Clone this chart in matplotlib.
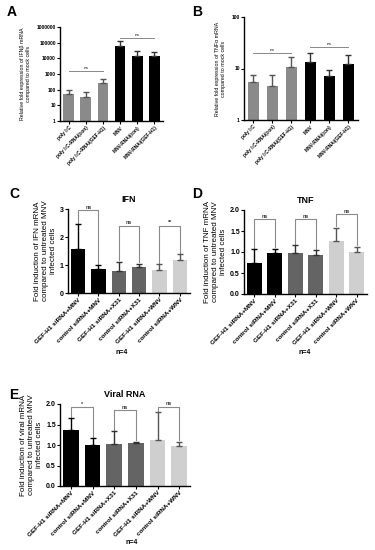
import numpy as np
import matplotlib
matplotlib.use("Agg")
import matplotlib.pyplot as plt

plt.rcParams['font.family'] = ['Liberation Sans', 'DejaVu Sans']
plt.rcParams['font.weight'] = 'bold'

# --- DATA ---
ab_labels = ['poly I:C', 'poly I:C-RNAi(con)', 'poly I:C-RNAi(GEF-H1)',
             'MNV', 'MNV-RNAi(con)', 'MNV-RNAi(GEF-H1)']
a_vals = [55, 35, 250, 65000, 15000, 14000]
a_err = [100, 70, 500, 130000, 30000, 25000]
b_vals = [5.5, 4.5, 10.5, 13.5, 7.0, 12.0]
b_err = [7.5, 7.5, 17, 20, 9.5, 18]

cde_labels = ['GEF-H1 siRNA+MNV', 'control siRNA+MNV', 'GEF-H1 siRNA+X31',
              'control siRNA+X31', 'GEF-H1 siRNA+WNV', 'control siRNA+WNV']
c_vals = [1.58, 0.85, 0.77, 0.92, 0.82, 1.18]
c_err = [2.45, 1.00, 1.12, 1.05, 1.02, 1.38]
c_sig = ['ns', 'ns', '**']
c_sig_y = [2.95, 2.4, 2.4]

d_vals = [0.73, 0.98, 0.97, 0.92, 1.27, 1.00]
d_err = [1.06, 1.07, 1.16, 1.04, 1.57, 1.12]
d_sig = ['ns', 'ns', 'ns']
d_sig_y = [1.78, 1.78, 1.9]

e_vals = [1.37, 1.00, 1.02, 1.06, 1.12, 0.97]
e_err = [1.65, 1.16, 1.33, 1.07, 1.80, 1.07]
e_sig = ['*', 'ns', 'ns']
e_sig_y = [1.93, 1.85, 1.93]

ab_colors = ['#8a8a8a'] * 3 + ['#000000'] * 3
cde_colors = ['#000000', '#000000', '#646464', '#646464', '#cfcfcf', '#cfcfcf']
err_colors = ['#000000', '#000000', '#303030', '#303030', '#555555', '#555555']

W, H = 375, 550
fig = plt.figure(figsize=(W / 100, H / 100), dpi=100)


def px_axes(x0, y0, x1, y1):
    return fig.add_axes([x0 / W, (H - y1) / H, (x1 - x0) / W, (y1 - y0) / H])


def style(ax, fs):
    for s in ['top', 'right']:
        ax.spines[s].set_visible(False)
    for s in ['left', 'bottom']:
        ax.spines[s].set_linewidth(1.0)
    ax.tick_params(axis='both', labelsize=fs, width=0.8, length=2, pad=1)


def bars(ax, vals, err, colors, ecolors, width):
    x = np.arange(len(vals))
    ax.bar(x, vals, width=width, color=colors, zorder=2)
    for xi, v, e, ec in zip(x, vals, err, ecolors):
        ax.errorbar(xi, v, yerr=[[0], [e - v]], fmt='none', ecolor=ec,
                    elinewidth=1.0, capsize=2.5, capthick=1.0, zorder=3)
    ax.set_xlim(-0.5, len(vals) - 0.5)
    ax.set_xticks(x)
    return x


# ---------- Panel A ----------
axA = px_axes(60, 27, 163, 121)
bars(axA, a_vals, a_err, ab_colors, ['#555555'] * 3 + ['#333333'] * 3, 0.62)
axA.set_yscale('log')
axA.set_ylim(1, 1e6)
axA.set_yticks([1, 10, 100, 1000, 10000, 100000, 1000000])
axA.set_yticklabels(['1', '10', '100', '1000', '10000', '100000', '1000000'])
axA.minorticks_off()
style(axA, 3.5)
axA.set_xticklabels(ab_labels, rotation=45, ha='right', rotation_mode='anchor', fontsize=3.4)
axA.set_ylabel('Relative fold expression of IFN\u03b2 mRNA\ncompared to mock cells', fontsize=3.8)
axA.plot([0, 2], [1500, 1500], color='#888888', lw=0.7)
axA.text(1, 1700, 'ns', ha='center', va='bottom', fontsize=3.2, color='#555555')
axA.plot([3, 5], [2e5, 2e5], color='#888888', lw=0.7)
axA.text(4, 2.3e5, 'ns', ha='center', va='bottom', fontsize=3.2, color='#555555')

# ---------- Panel B ----------
axB = px_axes(244, 17, 358, 120)
bars(axB, b_vals, b_err, ab_colors, ['#555555'] * 3 + ['#333333'] * 3, 0.62)
axB.set_yscale('log')
axB.set_ylim(1, 100)
axB.set_yticks([1, 10, 100])
axB.set_yticklabels(['1', '10', '100'])
axB.minorticks_off()
style(axB, 3.5)
axB.set_xticklabels(ab_labels, rotation=45, ha='right', rotation_mode='anchor', fontsize=3.4)
axB.set_ylabel('Relative fold expression of TNF\u03b1 mRNA\ncompared to mock cells', fontsize=3.8)
axB.plot([0, 2], [20, 20], color='#888888', lw=0.7)
axB.text(1, 21, 'ns', ha='center', va='bottom', fontsize=3.2, color='#555555')
axB.plot([3, 5], [26, 26], color='#888888', lw=0.7)
axB.text(4, 27.5, 'ns', ha='center', va='bottom', fontsize=3.2, color='#555555')


def bracket_panel(ax, vals, err, sig, sig_y, ymax, yticks, fmt, title, ylabel, drop):
    x = bars(ax, vals, err, cde_colors, err_colors, 0.72)
    ax.set_ylim(0, ymax)
    ax.set_yticks(yticks)
    ax.set_yticklabels([fmt.format(t) for t in yticks])
    style(ax, 5)
    ax.set_xticklabels(cde_labels, rotation=45, ha='right', rotation_mode='anchor', fontsize=4.6)
    ax.set_title(title, fontsize=6.5, fontweight='bold', pad=5)
    ax.set_ylabel(ylabel, fontsize=5.8, labelpad=2)
    for k, (s, y) in enumerate(zip(sig, sig_y)):
        i, j = 2 * k, 2 * k + 1
        ax.plot([x[i], x[i], x[j], x[j]],
                [err[i] + drop, y, y, err[j] + drop],
                color='#8a8a8a', lw=0.8, zorder=1)
        ax.text((x[i] + x[j]) / 2, y + ymax * 0.005, s, ha='center', va='bottom',
                fontsize=4, color='#444444')


# ---------- Panel C ----------
axC = px_axes(68, 209, 190, 293)
bracket_panel(axC, c_vals, c_err, c_sig, c_sig_y, 3, [0, 1, 2, 3], '{:.0f}', 'IFN',
              'Fold induction of IFN mRNA\ncompared to untreated MNV\ninfected cells', 0.05)

# ---------- Panel D ----------
axD = px_axes(244, 210, 367, 294)
bracket_panel(axD, d_vals, d_err, d_sig, d_sig_y, 2.0, [0, 0.5, 1.0, 1.5, 2.0], '{:.1f}', 'TNF',
              'Fold induction of TNF mRNA\ncompared to untreated MNV\ninfected cells', 0.04)

# ---------- Panel E ----------
axE = px_axes(60, 404, 190, 486)
bracket_panel(axE, e_vals, e_err, e_sig, e_sig_y, 2.0, [0, 0.5, 1.0, 1.5, 2.0], '{:.1f}', 'Viral RNA',
              'Fold induction of viral mRNA\ncompared to untreated MNV\ninfected cells', 0.04)

# panel letters and n=4 notes
for letter, (px, py) in zip('ABCDE', [(7, 12), (192, 12), (9, 194), (192, 194), (9, 395)]):
    fig.text(px / W, 1 - py / H, letter, fontsize=10, fontweight='bold', ha='left', va='center')
for (px, py) in [(122, 353), (305, 353), (132, 542)]:
    fig.text(px / W, 1 - py / H, 'n=4', fontsize=5, fontweight='bold', ha='center', va='center')

fig.savefig('out.png', dpi=100)
